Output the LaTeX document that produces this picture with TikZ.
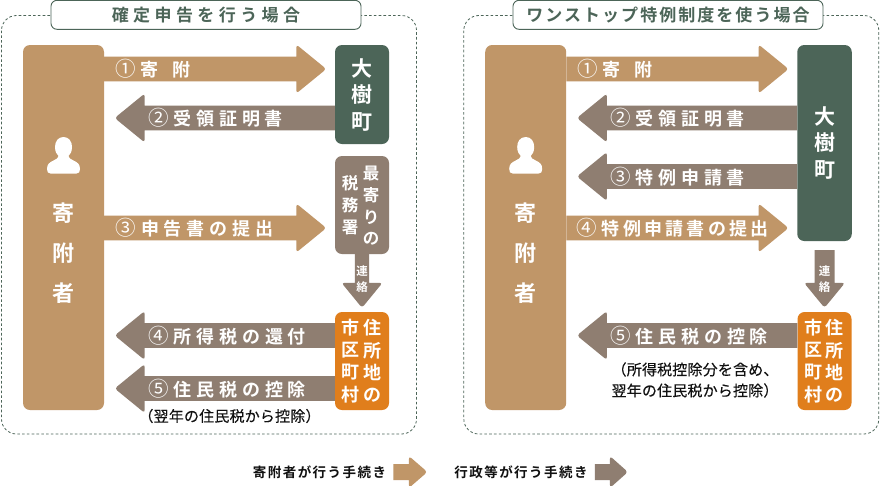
\documentclass[tikz,border=0pt]{standalone}
\usepackage{fontspec}
\setmainfont{Noto Sans CJK JP}[BoldFont={Noto Sans CJK JP Bold}]
\usetikzlibrary{calc}
\definecolor{tan}{HTML}{C09668}
\definecolor{dun}{HTML}{8F7E71}
\definecolor{moss}{HTML}{4C6558}
\definecolor{amber}{HTML}{E07E1C}
\definecolor{ink}{HTML}{111111}
\newcommand{\sized}[3]{\fontsize{#1}{#2}\selectfont\addfontfeature{LetterSpace=#3}}
\newcommand{\num}[1]{{\mdseries\fontsize{20.5}{20}\selectfont\addfontfeature{LetterSpace=0}#1}\hspace{5pt}}
\tikzset{
  panel/.style={draw=moss,dashed,dash pattern=on 2.6pt off 2.2pt,line width=.8pt,rounded corners=15pt},
  titlebox/.style={draw=moss,line width=.9pt,fill=white,rounded corners=6pt,inner sep=0pt,text=moss,font=\bfseries\sized{17}{18}{26}},
  boxn/.style={rounded corners=7pt,inner sep=0pt,minimum width=#1},
  vtext/.style={text=white,align=center,inner sep=0pt,font=\bfseries},
  flowlabel/.style={text=white,inner sep=0pt,font=\bfseries\sized{18}{20}{#1}},
  flowlabel/.default=27,
  notetext/.style={text=ink,inner sep=0pt,align=center,font=\sized{15}{21}{1.2}\addfontfeature{FakeBold=0.25}},
  legendtext/.style={text=ink,inner sep=0pt,font=\bfseries\sized{13.5}{15}{11}},
}
% colour, from, tip, half shaft, half head, head length
\newcommand{\blockarrow}[6]{%
  \coordinate (bh) at ($(#3)!#6pt!(#2)$);
  \fill[#1] ($(#2)!#4pt!90:(#3)$) -- ($(bh)!#4pt!-90:(#2)$)
    [rounded corners=3pt] -- ($(bh)!#5pt!-90:(#2)$) -- (#3) -- ($(bh)!#5pt!90:(#2)$)
    [sharp corners] -- ($(bh)!#4pt!90:(#2)$) -- ($(#2)!#4pt!-90:(#3)$) -- cycle;
}
% colour, from node anchor, to node anchor, gap to target, y
\newcommand{\flowR}[5]{%
  \coordinate (fa) at (#2 |- 0,#5);
  \coordinate (fb0) at (#3 |- 0,#5);
  \coordinate (fb) at ($(fb0)+(-#4,0)$);
  \blockarrow{#1}{fa}{fb}{12.3}{24.5}{30}
}
\newcommand{\flowL}[5]{%
  \coordinate (fa) at (#2 |- 0,#5);
  \coordinate (fb0) at (#3 |- 0,#5);
  \coordinate (fb) at ($(fb0)+(#4,0)$);
  \blockarrow{#1}{fa}{fb}{12.3}{24.5}{30}
}
\newcommand{\personicon}[1]{%
  \begin{scope}[shift={(#1)}]
    \fill[white] (0,-26) .. controls (-5.5,-26) and (-8.5,-21.5) .. (-8.5,-16)
      .. controls (-8.5,-11) and (-6.5,-8.5) .. (-5,-7)
      .. controls (-5,-5) and (-7,-4) .. (-10,-2.5)
      .. controls (-14,-0.5) and (-16.5,1) .. (-16.5,6)
      .. controls (-16.5,9) and (-15.5,10.5) .. (-13,10.5) -- (13,10.5)
      .. controls (15.5,10.5) and (16.5,9) .. (16.5,6)
      .. controls (16.5,1) and (14,-0.5) .. (10,-2.5)
      .. controls (7,-4) and (5,-5) .. (5,-7)
      .. controls (6.5,-8.5) and (8.5,-11) .. (8.5,-16)
      .. controls (8.5,-21.5) and (5.5,-26) .. (0,-26) -- cycle;
  \end{scope}
}
\begin{document}
\begin{tikzpicture}[x=1pt,y=-1pt]
\useasboundingbox (0,0) rectangle (880,485);
\fill[white] (0,0) rectangle (880,485);

% ---------- left panel
\draw[panel] (1.5,15.5) rectangle (416.5,434);
\node[titlebox,minimum width=310pt,minimum height=29pt] (t1) at (206,14.8) {確定申告を行う場合};

\node[boxn=81pt,fill=tan,minimum height=365pt] (p1) at (63.5,227.5) {};
\node[boxn=54pt,fill=moss,minimum height=99pt] (c1) at (362,94.5) {};
\node[boxn=54pt,fill=dun,minimum height=98pt] (x1) at (362,205) {};
\node[boxn=54pt,fill=amber,minimum height=98pt] (m1) at (362,361) {};

\flowR{tan}{p1.east}{c1.west}{8.5}{69}
\flowL{dun}{c1.west}{p1.east}{10.5}{118}
\flowR{tan}{p1.east}{x1.west}{8.5}{228}
\flowL{dun}{m1.west}{p1.east}{10.5}{335.5}
\flowL{dun}{m1.west}{p1.east}{10.5}{388.5}
\coordinate (d1a) at (x1.south);
\coordinate (d1b) at ($(m1.north)+(0,-4)$);
\blockarrow{dun}{d1a}{d1b}{7.2}{20.5}{25}

\personicon{63.5,163}
\node[vtext,font=\bfseries\fontsize{22}{40}\selectfont] (p1t) at (63.5,253) {寄\\附\\者};
\node[vtext,font=\bfseries\fontsize{21}{26.5}\selectfont] (c1t) at (362,95) {大\\樹\\町};
\node[vtext,font=\bfseries\fontsize{16.5}{21.7}\selectfont] (x1a) at (371,206) {最\\寄\\り\\の};
\node[vtext,font=\bfseries\fontsize{16.5}{21.7}\selectfont] (x1b) at (350,205) {税\\務\\署};
\node[vtext,font=\bfseries\fontsize{11.5}{16}\selectfont] (d1t) at (362,279) {連\\絡};
\node[vtext,font=\bfseries\fontsize{18}{22.2}\selectfont] (m1a) at (372,361) {住\\所\\地\\の};
\node[vtext,font=\bfseries\fontsize{18}{22.2}\selectfont] (m1b) at (350,361) {市\\区\\町\\村};

\node[flowlabel] (l11) at (153,69) {\num{①}寄\hspace{14pt}附};
\node[flowlabel] (l12) at (215.5,118) {\num{②}受領証明書};
\node[flowlabel] (l13) at (194.5,228) {\num{③}申告書の提出};
\node[flowlabel] (l14) at (227,335.5) {\num{④}所得税の還付};
\node[flowlabel] (l15) at (227,388.5) {\num{⑤}住民税の控除};
\node[notetext] (n1) at (229.5,416) {（翌年の住民税から控除）};

% ---------- right panel
\draw[panel] (463.8,15.5) rectangle (878.8,434);
\node[titlebox,minimum width=310pt,minimum height=29pt,font=\bfseries\sized{17}{18}{12}] (t2) at (668,14.8) {ワンストップ特例制度を使う場合};

\node[boxn=81pt,fill=tan,minimum height=365pt] (p2) at (525.7,227.5) {};
\node[boxn=54.5pt,fill=moss,minimum height=196pt] (c2) at (824.5,143) {};
\node[boxn=54pt,fill=amber,minimum height=98pt] (m2) at (824.5,361) {};

\flowR{tan}{p2.east}{c2.west}{8.5}{69}
\flowL{dun}{c2.west}{p2.east}{10.5}{118}
\flowL{dun}{c2.west}{p2.east}{10.5}{176.5}
\flowR{tan}{p2.east}{c2.west}{8.5}{228}
\flowL{dun}{m2.west}{p2.east}{10.5}{335.5}
\coordinate (d2a) at ($(c2.south)+(0,9)$);
\coordinate (d2b) at ($(m2.north)+(0,-4)$);
\blockarrow{dun}{d2a}{d2b}{10}{20.5}{25}

\personicon{525.7,163}
\node[vtext,font=\bfseries\fontsize{22}{40}\selectfont] (p2t) at (525.7,253) {寄\\附\\者};
\node[vtext,font=\bfseries\fontsize{21}{26.5}\selectfont] (c2t) at (824.5,143) {大\\樹\\町};
\node[vtext,font=\bfseries\fontsize{11.5}{16}\selectfont] (d2t) at (824.5,279) {連\\絡};
\node[vtext,font=\bfseries\fontsize{18}{22.2}\selectfont] (m2a) at (834.5,361) {住\\所\\地\\の};
\node[vtext,font=\bfseries\fontsize{18}{22.2}\selectfont] (m2b) at (813,361) {市\\区\\町\\村};

\node[flowlabel] (l21) at (615,69) {\num{①}寄\hspace{14pt}附};
\node[flowlabel] (l22) at (677.5,118) {\num{②}受領証明書};
\node[flowlabel] (l23) at (677.5,176.5) {\num{③}特例申請書};
\node[flowlabel=18] (l24) at (672.5,228) {\num{④}特例申請書の提出};
\node[flowlabel] (l25) at (689,335.5) {\num{⑤}住民税の控除};
\node[notetext] (n2) at (695,380) {（所得税控除分を含め、\\翌年の住民税から控除）};

% ---------- legend
\node[legendtext] (k1) at (319.5,472) {寄附者が行う手続き};
\coordinate (k1a) at ($(k1.east)+(7,0)$);
\coordinate (k1b) at ($(k1a)+(34,0)$);
\blockarrow{tan}{k1a}{k1b}{8}{16}{18.5}
\node[legendtext] (k2) at (521,472) {行政等が行う手続き};
\coordinate (k2a) at ($(k2.east)+(7,0)$);
\coordinate (k2b) at ($(k2a)+(33,0)$);
\blockarrow{dun}{k2a}{k2b}{8}{16}{18}
\end{tikzpicture}
\end{document}
